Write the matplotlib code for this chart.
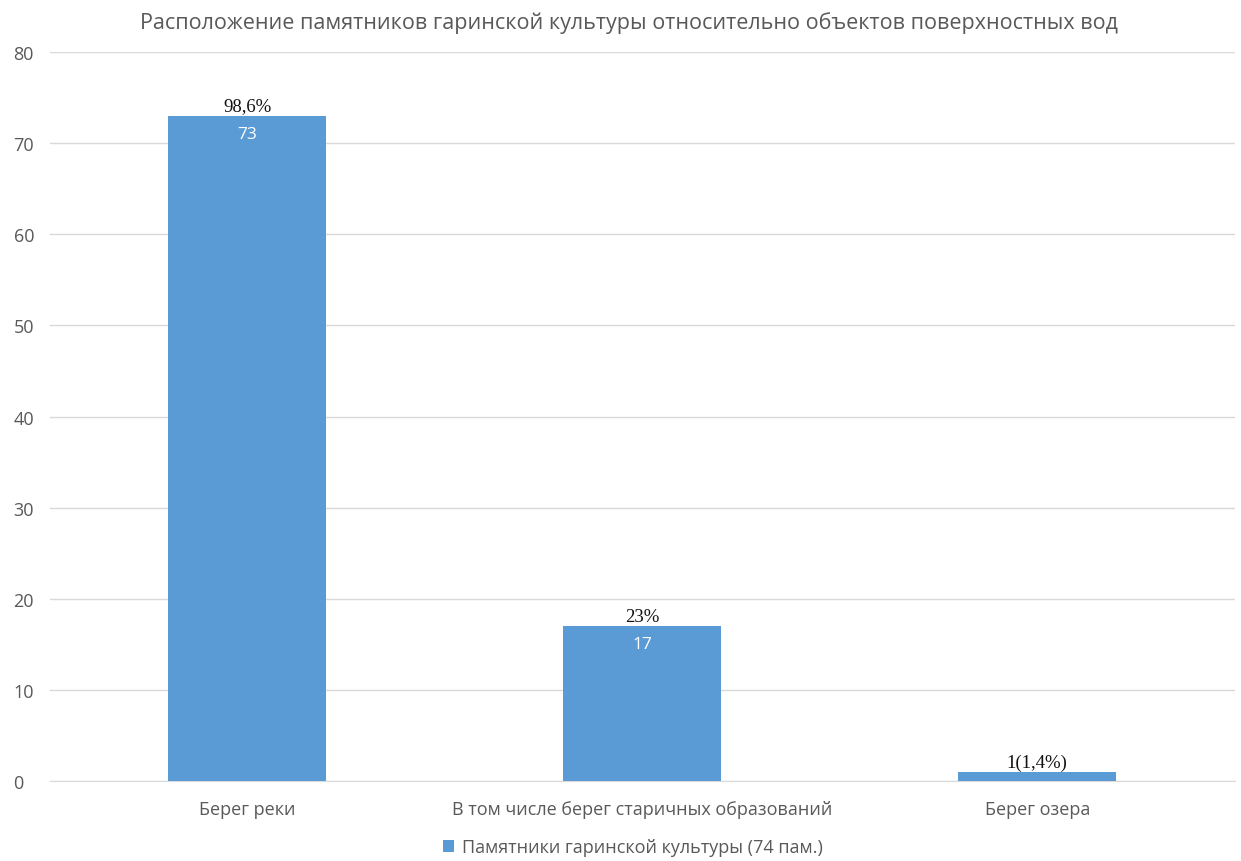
import matplotlib
matplotlib.use('Agg')
from matplotlib import pyplot as plt

plt.rcParams['font.family'] = ['Open Sans', 'DejaVu Sans']

categories = ['Берег реки', 'В том числе берег старичных образований', 'Берег озера']
values = [73, 17, 1]
pct_labels = ['98,6%', '23%', '1(1,4%)']
inner_labels = ['73', '17', '']
series_name = 'Памятники гаринской культуры (74 пам.)'
title = 'Расположение памятников гаринской культуры относительно объектов поверхностных вод'

bar_color = '#5B9BD5'
text_gray = '#595959'

fig = plt.figure(figsize=(12.41, 8.62), dpi=100)
ax = fig.add_axes([0.040, 0.0928, 0.955, 0.8457])

x = list(range(len(categories)))
bars = ax.bar(x, values, width=0.4, color=bar_color, zorder=3, label=series_name)

ax.set_xlim(-0.5, 2.5)
ax.set_ylim(0, 80)
ax.set_yticks(range(0, 81, 10))
ax.grid(axis='y', color='#D9D9D9', linewidth=1, zorder=0)
for s in ['top', 'right', 'left']:
    ax.spines[s].set_visible(False)
ax.spines['bottom'].set_color('#D9D9D9')
ax.tick_params(axis='both', length=0, labelsize=13, colors=text_gray)
ax.tick_params(axis='x', pad=14)
ax.set_xticks(x)
ax.set_xticklabels(categories)
for lbl in ax.get_yticklabels():
    lbl.set_horizontalalignment('left')
ax.tick_params(axis='y', pad=26)

for xi, v, p, t in zip(x, values, pct_labels, inner_labels):
    ax.annotate(p, (xi, v), xytext=(0, 1), textcoords='offset points',
                ha='center', va='bottom', fontsize=13.5,
                family=['Liberation Serif', 'DejaVu Serif'], color='#111111', zorder=4)
    if t:
        ax.annotate(t, (xi, v), xytext=(0, -7), textcoords='offset points',
                    ha='center', va='top', fontsize=12.5, color='white', zorder=4)

fig.text(0.507, 0.973, title, ha='center', va='center', fontsize=15.5, color=text_gray)

fig.legend(handles=[bars], labels=[series_name], loc='center', bbox_to_anchor=(0.51, 0.016),
           frameon=False, fontsize=13, labelcolor=text_gray, handlelength=0.6,
           handleheight=0.6, handletextpad=0.4)

plt.savefig('out.png', dpi=100)
